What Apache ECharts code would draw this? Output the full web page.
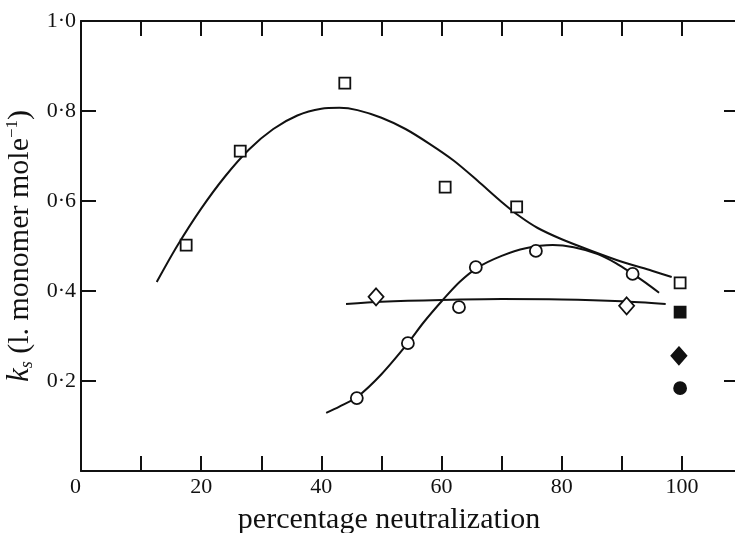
<!DOCTYPE html>
<html>
<head>
<meta charset="utf-8">
<script src="https://cdn.jsdelivr.net/npm/echarts@6/dist/echarts.min.js"></script>
<style>
html,body{margin:0;padding:0;background:#fff;}
#chart{width:735px;height:533px;}
</style>
</head>
<body>
<div id="chart"></div>
<script>
// ---- data ----
const squareX = [17.5, 26.5, 43.9, 60.6, 72.5, 99.7];
const squareY = [0.502, 0.711, 0.862, 0.631, 0.587, 0.418];
const circleX = [45.9, 54.4, 62.9, 65.7, 75.7, 91.8];
const circleY = [0.162, 0.284, 0.364, 0.453, 0.489, 0.438];
const diamondX = [49.1, 90.8];
const diamondY = [0.387, 0.367];
const filledSquareX = [99.7];
const filledSquareY = [0.353];
const filledDiamondX = [99.5];
const filledDiamondY = [0.256];
const filledCircleX = [99.7];
const filledCircleY = [0.184];

const squareCurveX = [12.6, 16, 20, 24, 28, 32, 36, 40, 43, 46, 50, 54, 58, 62, 66, 70, 73, 76, 80, 85, 90, 95, 98.3];
const squareCurveY = [0.42, 0.50, 0.583, 0.655, 0.715, 0.76, 0.79, 0.805, 0.807, 0.802, 0.785, 0.76, 0.727, 0.69, 0.645, 0.598, 0.566, 0.54, 0.515, 0.489, 0.465, 0.445, 0.431];
const circleCurveX = [40.8, 43, 46, 50, 54.4, 57, 60.2, 63, 66, 70, 74, 78.5, 82, 86, 89, 91.8, 94, 96.2];
const circleCurveY = [0.129, 0.143, 0.165, 0.215, 0.284, 0.33, 0.38, 0.42, 0.452, 0.478, 0.495, 0.502, 0.497, 0.482, 0.462, 0.438, 0.418, 0.396];
const diamondCurveX = [44.1, 50, 60, 70, 80, 90, 97.3];
const diamondCurveY = [0.371, 0.376, 0.38, 0.382, 0.381, 0.377, 0.371];

const xTickLabels = ['0', '20', '40', '60', '80', '100'];
const yTickLabels = ['0·2', '0·4', '0·6', '0·8', '1·0'];

const xTitle = 'percentage neutralization';

// ---- helpers ----
const zip = (xs, ys) => xs.map((x, i) => [x, ys[i]]);
const FONT = '"Liberation Serif", "DejaVu Serif", serif';
const INK = '#111';

function xLabel(v) {
  const s = String(Math.round(v));
  return (Math.abs(v - Math.round(v)) < 1e-6 && xTickLabels.includes(s)) ? s : '';
}
function yLabel(v) {
  const s = v.toFixed(1).replace('.', '·');
  return yTickLabels.includes(s) ? s : '';
}

const lineStyleCommon = { color: INK, width: 2 };
const tickCommon = { show: true, inside: true, length: 15, lineStyle: { color: INK, width: 2 } };
const axisLineCommon = { show: true, onZero: false, lineStyle: { color: INK, width: 2 } };

function curve(xs, ys) {
  return {
    type: 'line', data: zip(xs, ys), smooth: 0.3, showSymbol: false, symbol: 'none',
    lineStyle: lineStyleCommon, silent: true, z: 2
  };
}
function marks(xs, ys, symbol, size, filled) {
  return {
    type: 'scatter', data: zip(xs, ys), symbol: symbol, symbolSize: size,
    itemStyle: { color: filled ? INK : '#fff', borderColor: INK, borderWidth: 1.8, opacity: 1 },
    silent: true, z: 5
  };
}

const chart = echarts.init(document.getElementById('chart'), null, { renderer: 'canvas' });
chart.setOption({
  backgroundColor: '#fff',
  animation: false,
  grid: { left: 81, right: -4, top: 21, bottom: 62, containLabel: false, outerBoundsMode: 'none' },
  xAxis: [
    {
      type: 'value', min: 0, max: 109.5, interval: 10, position: 'bottom',
      axisLine: axisLineCommon, axisTick: tickCommon, splitLine: { show: false },
      axisLabel: { formatter: xLabel, color: INK, fontFamily: FONT, fontSize: 22, margin: 5, showMaxLabel: false, alignMinLabel: 'right' },
      name: xTitle, nameLocation: 'middle', nameGap: 34,
      nameTextStyle: { color: INK, fontFamily: FONT, fontSize: 30, padding: [0, 42, 0, 0] }
    },
    {
      type: 'value', min: 0, max: 109.5, interval: 10, position: 'top',
      axisLine: axisLineCommon, axisTick: tickCommon, splitLine: { show: false },
      axisLabel: { show: false }
    }
  ],
  yAxis: [
    {
      type: 'value', min: 0, max: 1, interval: 0.2, position: 'left',
      axisLine: axisLineCommon, axisTick: tickCommon, splitLine: { show: false },
      axisLabel: { formatter: yLabel, color: INK, fontFamily: FONT, fontSize: 22, margin: 5 },
      name: '{k|k}{sub|s}{n| (l. monomer mole}{sup|−1}{n|)}',
      nameLocation: 'middle', nameRotate: 90, nameGap: 45,
      nameTextStyle: {
        color: INK, fontFamily: FONT, fontSize: 30,
        rich: {
          k: { fontFamily: FONT, fontSize: 31, fontStyle: 'italic', color: INK },
          sub: { fontFamily: FONT, fontSize: 18, fontStyle: 'italic', color: INK, verticalAlign: 'bottom', padding: [14, 0, 0, 0] },
          n: { fontFamily: FONT, fontSize: 30, color: INK },
          sup: { fontFamily: FONT, fontSize: 17, color: INK, verticalAlign: 'top', padding: [0, 0, 14, 0] }
        }
      }
    },
    {
      type: 'value', min: 0, max: 1, interval: 0.2, position: 'right',
      axisLine: axisLineCommon, axisTick: tickCommon, splitLine: { show: false },
      axisLabel: { show: false }
    }
  ],
  series: [
    curve(squareCurveX, squareCurveY),
    curve(circleCurveX, circleCurveY),
    curve(diamondCurveX, diamondCurveY),
    marks(squareX, squareY, 'rect', 11, false),
    marks(circleX, circleY, 'circle', 12, false),
    marks(diamondX, diamondY, 'diamond', [15, 17], false),
    marks(filledSquareX, filledSquareY, 'rect', 11, true),
    marks(filledDiamondX, filledDiamondY, 'diamond', [15, 17], true),
    marks(filledCircleX, filledCircleY, 'circle', 12, true)
  ]
});
</script>
</body>
</html>
